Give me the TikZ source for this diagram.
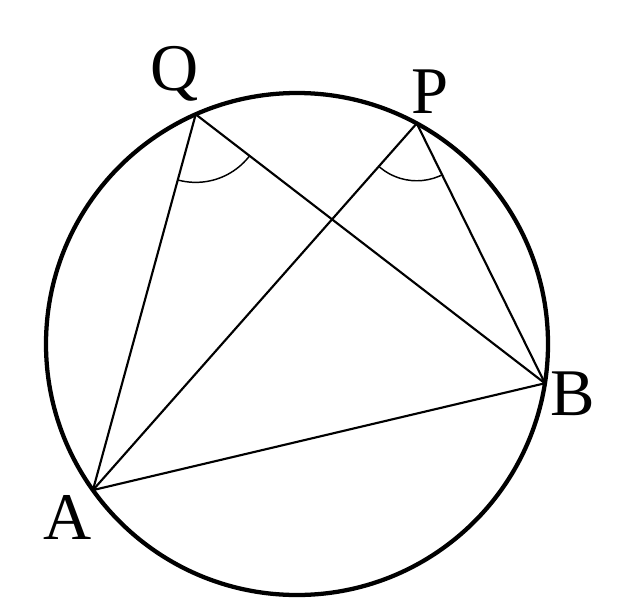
\documentclass[tikz,border=0pt]{standalone}
\usepackage{fontspec}
\setmainfont{Liberation Serif}
\usetikzlibrary{calc}
\begin{document}
\begin{tikzpicture}[x=0.75pt,y=-0.75pt,
  rim/.style={line width=3.2pt},
  chord/.style={line width=1.6pt},
  anglemark/.style={line width=1.1pt},
  lbl/.style={font=\fontsize{50}{50}\selectfont, anchor=base, inner sep=0pt}]
\path[use as bounding box] (0,0) rectangle (639,600);
\coordinate (O) at (297,344);
\coordinate (A) at ($(O)+(-215.6:251)$);
\coordinate (B) at ($(O)+(9:251)$);
\coordinate (Q) at ($(O)+(-113.8:251)$);
\coordinate (P) at ($(O)+(-61.5:251)$);
\draw[rim] (O) circle[radius=188.25pt];
\draw[chord] (Q) -- (A);
\draw[chord] (Q) -- (B);
\draw[chord] (P) -- (A);
\draw[chord] (P) -- (B);
\draw[chord] (A) -- (B);
\begin{scope}
  \clip (Q) -- (A) -- (B) -- cycle;
  \draw[anglemark] (Q) circle[radius=51pt];
\end{scope}
\begin{scope}
  \clip (P) -- (A) -- (B) -- cycle;
  \draw[anglemark] (P) circle[radius=43pt];
\end{scope}
\node[lbl] (lQ) at (175,90) {Q};
\node[lbl] (lP) at (430,113) {P};
\node[lbl] (lA) at (68,539) {A};
\node[lbl] (lB) at (573,415) {B};
\end{tikzpicture}
\end{document}
